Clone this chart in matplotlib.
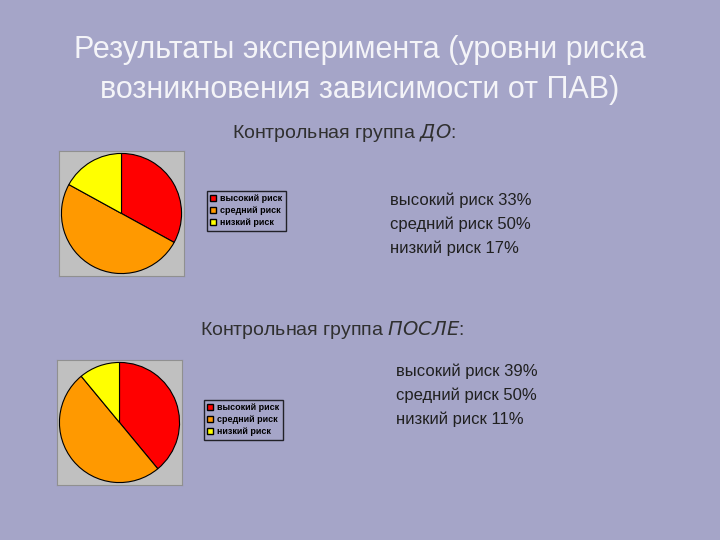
import matplotlib.pyplot as plt
from matplotlib.patches import Patch

plt.rcParams['font.family'] = ['Liberation Sans', 'DejaVu Sans']

labels = ['высокий риск', 'средний риск', 'низкий риск']
before = [33, 50, 17]
after = [39, 50, 11]
colors = ['#ff0000', '#ff9900', '#ffff00']

W, H = 720, 540
fig = plt.figure(figsize=(7.2, 5.4), dpi=100)
fig.patch.set_facecolor('#a5a5c8')


def fx(x):
    return x / W


def fy(y):
    return 1 - y / H


# title
fig.text(0.5, fy(50), 'Результаты эксперимента (уровни риска', ha='center', va='center',
         fontsize=22, color='#f4f4f8')
fig.text(0.5, fy(90), 'возникновения зависимости от ПАВ)', ha='center', va='center',
         fontsize=22, color='#f4f4f8')


def block(values, box, legbox, sub, subxy, text_x, text_y):
    x0, y0, x1, y1 = box
    ax = fig.add_axes([fx(x0), fy(y1), fx(x1 - x0), (y1 - y0) / H])
    ax.pie(values, colors=colors, startangle=90, counterclock=False, radius=0.98,
           wedgeprops=dict(edgecolor='black', linewidth=0.8))
    ax.set_frame_on(True)
    ax.set_facecolor('#c0c0c0')
    ax.set_xlim(-1.02, 1.02)
    ax.set_ylim(-1.02, 1.02)
    ax.set_aspect('auto')
    ax.set_xticks([])
    ax.set_yticks([])
    for s in ax.spines.values():
        s.set_color('#909090')
    handles = [Patch(facecolor=c, edgecolor='black') for c in colors]
    leg = fig.legend(handles, labels, loc='upper left',
                     bbox_to_anchor=(fx(legbox[0]), fy(legbox[1])),
                     frameon=True, fancybox=False, handlelength=0.7,
                     handleheight=0.7, handletextpad=0.4, labelspacing=0.35,
                     borderpad=0.4, prop=dict(size=6.5, weight='bold'))
    leg.get_frame().set_facecolor('#a5a5c8')
    leg.get_frame().set_edgecolor('black')
    fig.text(fx(subxy[0]), fy(subxy[1]), sub, fontsize=14, color='#303030',
             va='center')
    for i, (l, v) in enumerate(zip(labels, values)):
        fig.text(fx(text_x), fy(text_y + i * 24), f'{l} {v}%', fontsize=12,
                 color='#202020', va='center')


block(before, (59, 151, 184, 276), (202, 186), 'Контрольная группа $\\it{ДО}$:',
      (232, 133), 390, 200)
block(after, (57, 360, 182, 485), (199, 395), 'Контрольная группа $\\it{ПОСЛЕ}$:',
      (200, 330), 396, 371)

fig.savefig('out.png', dpi=100, facecolor=fig.get_facecolor())
